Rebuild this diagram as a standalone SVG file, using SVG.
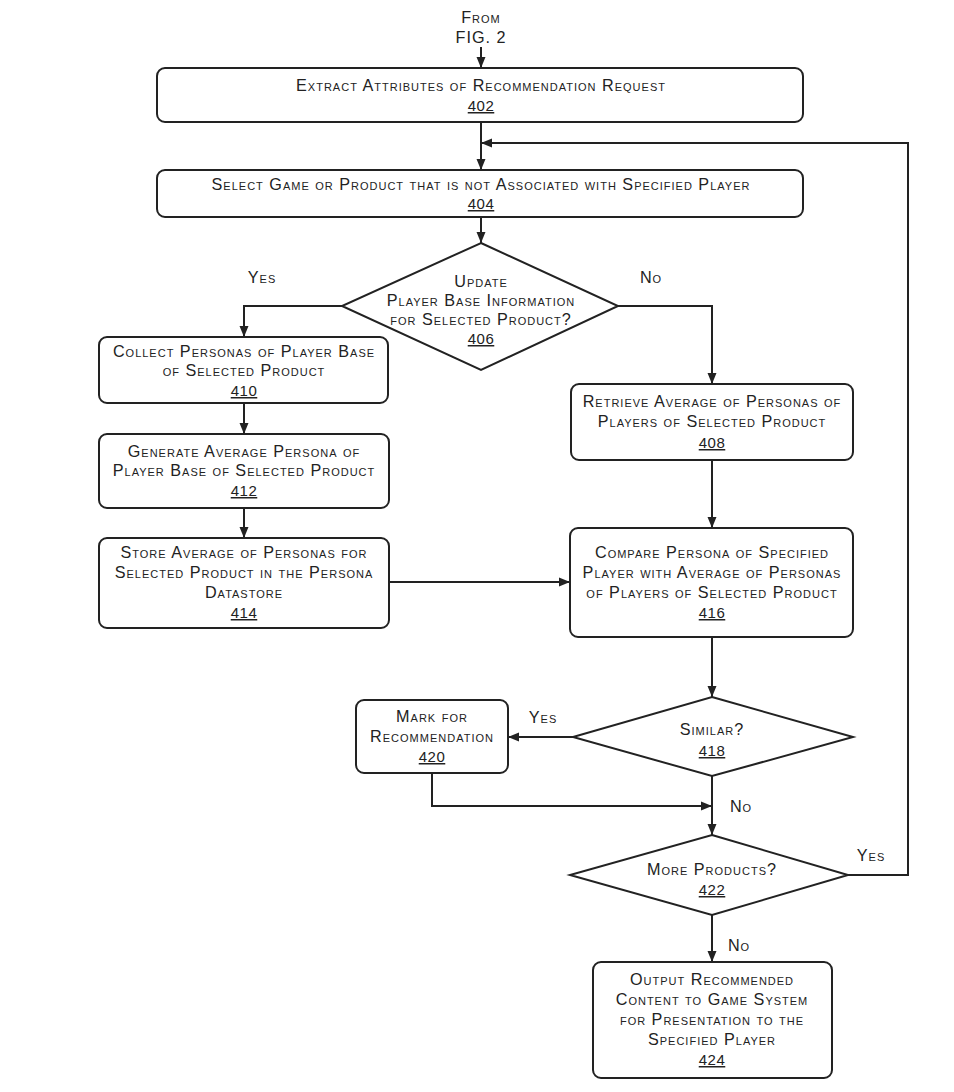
<svg xmlns="http://www.w3.org/2000/svg" width="954" height="1092" viewBox="0 0 954 1092">
<style>
text{font-family:"Liberation Sans",Arial,sans-serif;font-size:16.2px;font-variant:small-caps;letter-spacing:1px;fill:#222;text-anchor:middle}
.n{font-size:15px;text-decoration:underline;letter-spacing:0.5px}
.box{fill:#fff;stroke:#222;stroke-width:2}
.dia{fill:#fff;stroke:#222;stroke-width:2;stroke-linejoin:miter}
.c{fill:none;stroke:#222;stroke-width:2}
</style>
<defs>
<marker id="ah" markerUnits="userSpaceOnUse" markerWidth="12" markerHeight="12" viewBox="0 0 12 12" refX="11" refY="6" orient="auto">
<path d="M0,1.5 L11,6 L0,10.5 Z" fill="#222"/>
</marker>
</defs>
<rect width="954" height="1092" fill="#fff"/>
<g id="start"><text x="481" y="23">From</text><text x="481" y="43">FIG. 2</text></g>
<g id="connectors">
<path class="c" d="M481,47 V68" marker-end="url(#ah)"/>
<path class="c" d="M481,122 V170" marker-end="url(#ah)"/>
<path class="c" d="M481,217 V243" marker-end="url(#ah)"/>
<path class="c" d="M342,306 H244 V337" marker-end="url(#ah)"/>
<path class="c" d="M244,403 V434" marker-end="url(#ah)"/>
<path class="c" d="M244,508 V538" marker-end="url(#ah)"/>
<path class="c" d="M389,582 H570" marker-end="url(#ah)"/>
<path class="c" d="M618,306 H712 V384" marker-end="url(#ah)"/>
<path class="c" d="M712,460 V528" marker-end="url(#ah)"/>
<path class="c" d="M712,637 V697" marker-end="url(#ah)"/>
<path class="c" d="M573,737 H508" marker-end="url(#ah)"/>
<path class="c" d="M432,773 V806 H712" marker-end="url(#ah)"/>
<path class="c" d="M712,776 V835" marker-end="url(#ah)"/>
<path class="c" d="M848,875 H908 V143 H481" marker-end="url(#ah)"/>
<path class="c" d="M712,915 V962" marker-end="url(#ah)"/>
<text x="262" y="283">Yes</text>
<text x="651" y="283">No</text>
<text x="543" y="723">Yes</text>
<text x="741" y="812">No</text>
<text x="871" y="861">Yes</text>
<text x="739" y="951">No</text>
</g>
<g id="n402"><rect class="box" x="157" y="68" width="646" height="54" rx="8"/>
<text x="481" y="91">Extract Attributes of Recommendation Request</text><text class="n" x="481" y="111">402</text></g>
<g id="n404"><rect class="box" x="157" y="170" width="646" height="47" rx="8"/>
<text x="481" y="190">Select Game or Product that is not Associated with Specified Player</text><text class="n" x="481" y="209">404</text></g>
<g id="n406"><polygon class="dia" points="481,243 618,306 481,370 342,306"/>
<text x="481" y="287">Update</text><text x="481" y="306">Player Base Information</text><text x="481" y="325">for Selected Product?</text><text class="n" x="481" y="344">406</text></g>
<g id="n410"><rect class="box" x="99" y="337" width="289" height="66" rx="8"/>
<text x="244" y="357">Collect Personas of Player Base</text><text x="244" y="376">of Selected Product</text><text class="n" x="244" y="396">410</text></g>
<g id="n412"><rect class="box" x="99" y="434" width="290" height="74" rx="8"/>
<text x="244" y="457">Generate Average Persona of</text><text x="244" y="476">Player Base of Selected Product</text><text class="n" x="244" y="496">412</text></g>
<g id="n414"><rect class="box" x="99" y="538" width="290" height="90" rx="8"/>
<text x="244" y="558">Store Average of Personas for</text><text x="244" y="578">Selected Product in the Persona</text><text x="244" y="598">Datastore</text><text class="n" x="244" y="618">414</text></g>
<g id="n408"><rect class="box" x="571" y="384" width="282" height="76" rx="8"/>
<text x="712" y="407">Retrieve Average of Personas of</text><text x="712" y="427">Players of Selected Product</text><text class="n" x="712" y="448">408</text></g>
<g id="n416"><rect class="box" x="570" y="528" width="283" height="109" rx="8"/>
<text x="712" y="558">Compare Persona of Specified</text><text x="712" y="578">Player with Average of Personas</text><text x="712" y="598">of Players of Selected Product</text><text class="n" x="712" y="618">416</text></g>
<g id="n418"><polygon class="dia" points="712,697 853,737 712,776 573,737"/>
<text x="712" y="735">Similar?</text><text class="n" x="712" y="756">418</text></g>
<g id="n420"><rect class="box" x="356" y="700" width="152" height="73" rx="8"/>
<text x="432" y="722">Mark for</text><text x="432" y="742">Recommendation</text><text class="n" x="432" y="762">420</text></g>
<g id="n422"><polygon class="dia" points="712,835 848,875 712,915 570,875"/>
<text x="712" y="875">More Products?</text><text class="n" x="712" y="895">422</text></g>
<g id="n424"><rect class="box" x="593" y="962" width="239" height="116" rx="8"/>
<text x="712" y="985">Output Recommended</text><text x="712" y="1005">Content to Game System</text><text x="712" y="1025">for Presentation to the</text><text x="712" y="1045">Specified Player</text><text class="n" x="712" y="1065">424</text></g>
</svg>
